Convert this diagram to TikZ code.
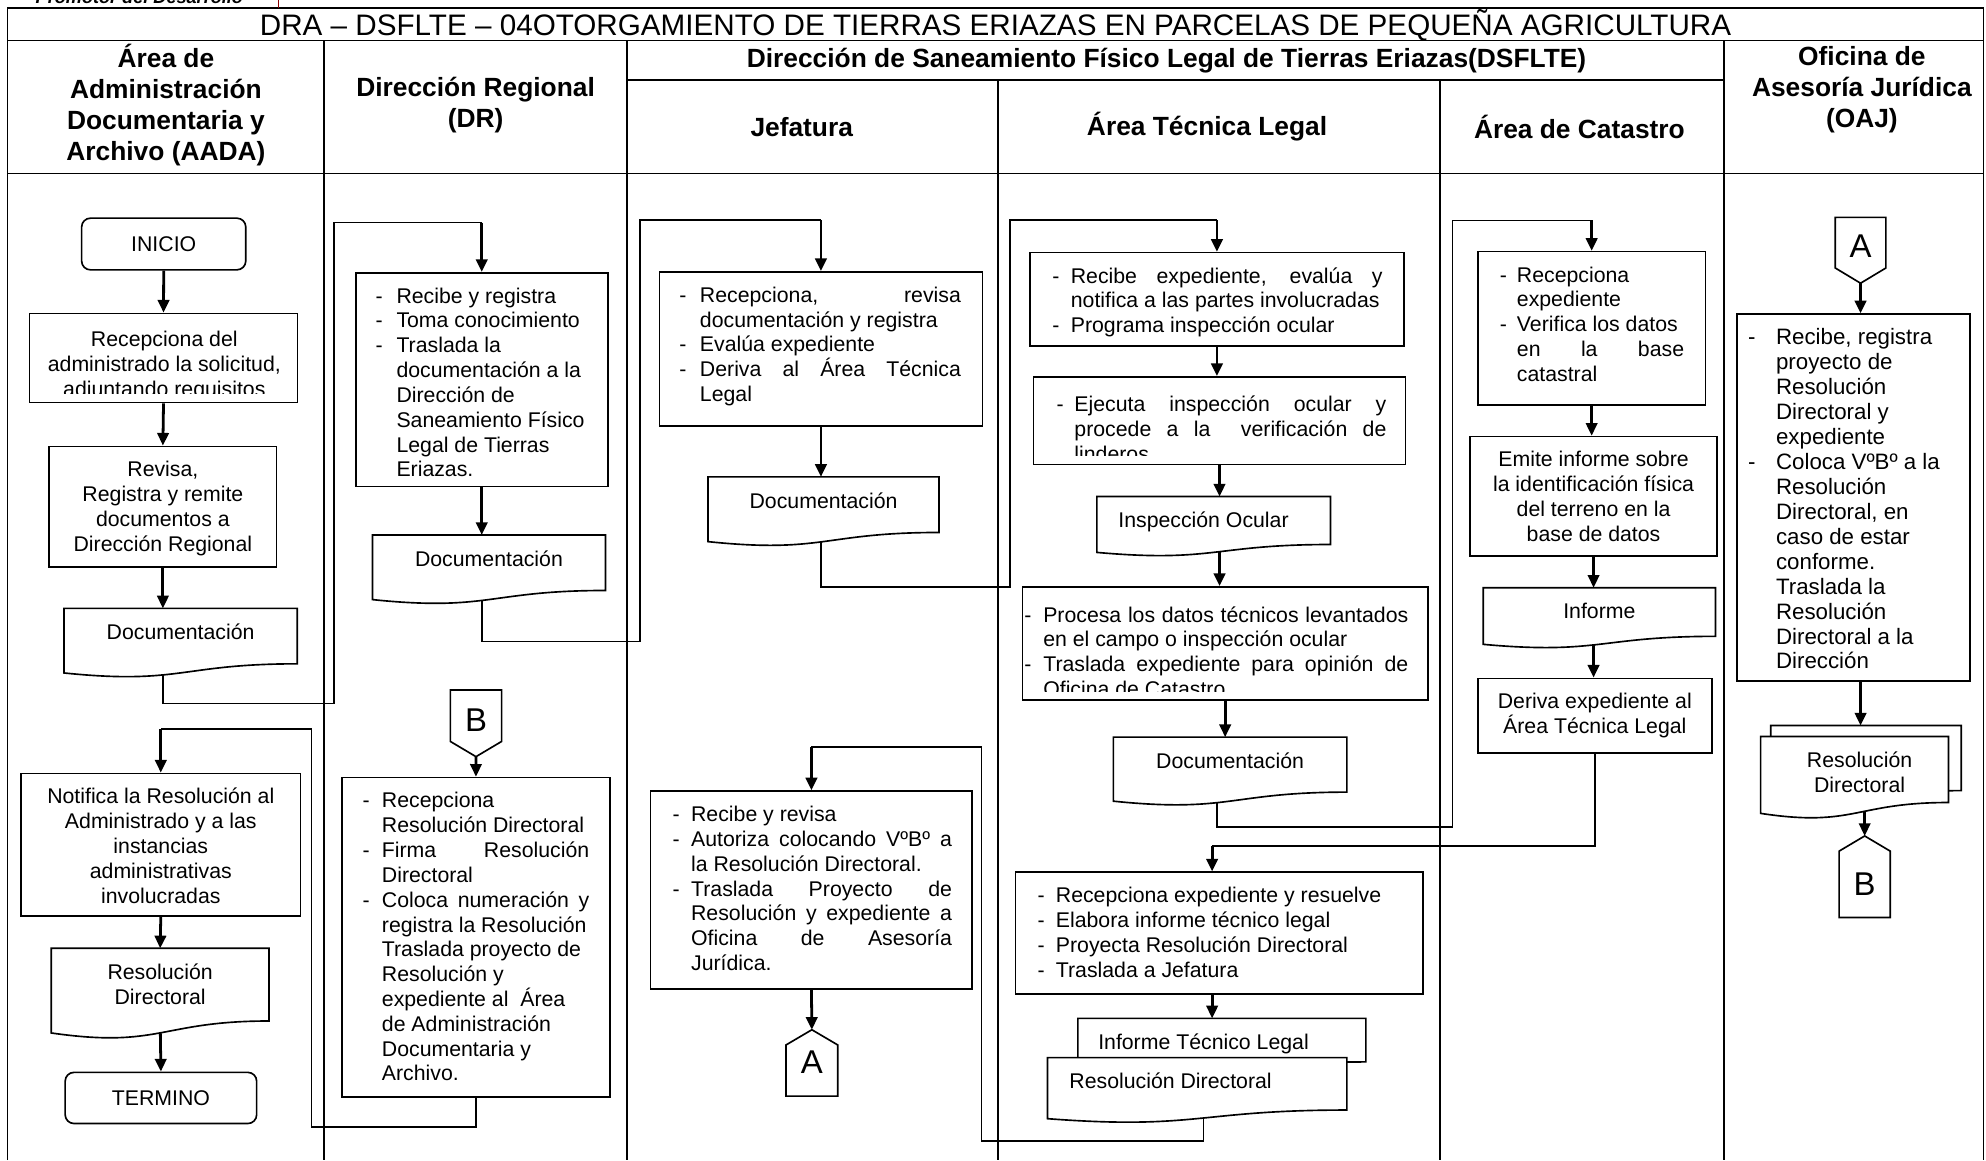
\documentclass[tikz,border=0pt]{standalone}
\usepackage{fontspec}
\usepackage{graphicx}
\setmainfont{Liberation Sans}
\usetikzlibrary{arrows.meta,calc}

\pgfdeclarelayer{lines}
\pgfdeclarelayer{shapes}
\pgfsetlayers{lines,shapes,main}

\newcommand{\bodyfont}{\fontsize{16.8pt}{19.6pt}\selectfont}
\newcommand{\hdrfont}{\fontsize{20.8pt}{24.5pt}\selectfont\bfseries}
\newcommand{\titlefont}{\fontsize{23.4pt}{28pt}\selectfont}
\newcommand{\offfont}{\fontsize{26pt}{26pt}\selectfont}

% bulleted lines: dash + hanging indent, optionally stretched to full width
\newlength{\bulind}
\newcommand{\bdash}[1]{\makebox[\bulind][l]{-}#1}
\newcommand{\bind}[1]{\hspace*{\bulind}#1}
\newcommand{\bdashj}[1]{\makebox[\bulind][l]{-}\makebox[\dimexpr\linewidth-\bulind\relax][s]{#1}}
\newcommand{\bindj}[1]{\hspace*{\bulind}\makebox[\dimexpr\linewidth-\bulind\relax][s]{#1}}
% text block with left pad, width, right pad
\newcommand{\txtblk}[4]{\hspace*{#1}\parbox[t]{#2}{#4}\hspace*{#3}}

% document symbol (wavy bottom) drawn around a node
\newcommand{\docshape}[1]{%
  \begin{pgfonlayer}{shapes}
  \draw[docline] let \p1=(#1.north west), \p2=(#1.south east), \n1={\y1-\y2} in
    (\x1,\y1) -- (\x2,\y1) -- (\x2,\y2)
    .. controls ({(\x1+\x2)/2},\y2) and ({(\x1+\x2)/2},{\y2-0.381*\n1}) .. (\x1,{\y2-0.1646*\n1}) -- cycle;
  \end{pgfonlayer}}
% off-page connectors
\newcommand{\offdown}[1]{%
  \begin{pgfonlayer}{shapes}
  \draw[docline] let \p1=(#1.north west), \p2=(#1.south east) in
    (\x1,\y1) -- (\x2,\y1) -- (\x2,{\y2+12pt}) -- ({(\x1+\x2)/2},\y2) -- (\x1,{\y2+12pt}) -- cycle;
  \end{pgfonlayer}}
\newcommand{\offup}[1]{%
  \begin{pgfonlayer}{shapes}
  \draw[docline] let \p1=(#1.north west), \p2=(#1.south east) in
    (\x1,\y2) -- (\x2,\y2) -- (\x2,{\y1-12pt}) -- ({(\x1+\x2)/2},\y1) -- (\x1,{\y1-12pt}) -- cycle;
  \end{pgfonlayer}}

\begin{document}
\begin{tikzpicture}[x=1pt,y=-1pt,
  lane/.style={line width=1.3pt},
  box/.style={draw, line width=1.3pt, fill=white, anchor=north west, inner sep=0pt, font=\bodyfont},
  term/.style={box, rounded corners=7pt},
  doc/.style={anchor=north west, inner sep=0pt, font=\bodyfont, text height=24.5pt},
  docline/.style={draw, line width=1.3pt, fill=white},
  conn/.style={line width=1.3pt},
  arr/.style={line width=2.2pt, -{Triangle[width=9pt,length=10pt]}},
  hdr/.style={font=\hdrfont, align=center, inner sep=0pt},
  clipbox/.style={box, path picture={
    \clip ([yshift=7pt]path picture bounding box.south west) rectangle (path picture bounding box.north east);
    \node[anchor=north west, inner sep=0pt, text height=24pt, font=\bodyfont] at (path picture bounding box.north west) {#1};}}
]
\useasboundingbox (0,0) rectangle (1568,916);

% ---------- frame and lanes ----------
\begin{pgfonlayer}{lines}
  \fill[white] (0,0) rectangle (1568,916);
  \draw[lane] (6,916) -- (6,6.5) -- (1566,6.5) -- (1566,916);
  \draw[lane] (6,32) -- (1566,32);
  \draw[lane] (6,137) -- (1566,137);
  \draw[lane] (495,63) -- (1361,63);
  \foreach \x in {256,495,1361} \draw[lane] (\x,32) -- (\x,916);
  \foreach \x in {788,1137} \draw[lane] (\x,63) -- (\x,916);
  \draw[red!55!black, line width=0.9pt] (220,0) -- (220,6.5);
\end{pgfonlayer}

\node[anchor=base west, inner sep=0pt, font=\fontsize{14.3pt}{15pt}\selectfont\bfseries\itshape] (logo) at (28,3) {Promotor del Desarrollo};

\node[font=\titlefont, anchor=base, inner sep=0pt] (title) at (786,28) {DRA – DSFLTE – 04OTORGAMIENTO DE TIERRAS ERIAZAS EN PARCELAS DE PEQUEÑA AGRICULTURA};

\node[hdr] (hAADA) at (131,82.75) {Área de\\Administración\\Documentaria y\\Archivo (AADA)};
\node[hdr] (hDR) at (375.5,83) {Dirección Regional\\(DR)};
\node[hdr] (hDS) at (921,48) {Dirección de Saneamiento Físico Legal de Tierras Eriazas(DSFLTE)};
\node[hdr] (hJef) at (633,100) {Jefatura};
\node[hdr] (hATL) at (953,100) {Área Técnica Legal};
\node[hdr] (hCat) at (1247,100) {Área de Catastro};
\node[hdr] (hOAJ) at (1470,71) {Oficina de\\Asesoría Jurídica\\(OAJ)};

% ---------- AADA ----------
\node[term, minimum width=129.6pt, minimum height=40.8pt] (inicio) at (63.8,171.6) {INICIO};
\node[clipbox={\txtblk{8pt}{195.7pt}{8pt}{\centering Recepciona del\\administrado la solicitud,\\adjuntando requisitos}},
      minimum width=211.7pt, minimum height=70.3pt] (a1) at (22.6,246.8) {};
\node[box, text height=24pt, text depth=71.2pt] (a2) at (38.2,351.8)
  {\txtblk{6pt}{167.5pt}{6pt}{\centering Revisa,\\Registra y remite\\documentos a\\Dirección Regional}};
\node[doc, text depth=18.9pt] (adoc1) at (50.5,480.3) {\makebox[183.8pt]{Documentación}};
\docshape{adoc1}
\node[box, text height=24pt, text depth=88.4pt] (a4) at (16,610)
  {\txtblk{6pt}{208.6pt}{6pt}{\centering Notifica la Resolución al\\Administrado y a las\\instancias\\administrativas\\involucradas}};
\node[doc, text depth=32.5pt] (adoc2) at (40.5,748.7) {\parbox[t]{171.5pt}{\centering Resolución\\Directoral}};
\docshape{adoc2}
\node[term, minimum width=151.2pt, minimum height=40.4pt] (termino) at (50.8,846) {TERMINO};

% ---------- DR ----------
\node[box, text height=24pt, text depth=144.7pt] (d1) at (280.2,214.7)
  {\txtblk{15.8pt}{171.2pt}{12pt}{\raggedright\setlength{\bulind}{16.4pt}%
   \bdash{Recibe y registra}\\\bdash{Toma conocimiento}\\\bdash{Traslada la}\\\bind{documentación a la}\\%
   \bind{Dirección de}\\\bind{Saneamiento Físico}\\\bind{Legal de Tierras}\\\bind{Eriazas.}}};
\node[doc, text depth=18.9pt] (ddoc) at (294.1,422.4) {\makebox[183.5pt]{Documentación}};
\docshape{ddoc}
\node[doc, text height=32.2pt, text depth=20pt] (dB) at (355.6,544.8) {\makebox[40pt]{\offfont B}};
\offdown{dB}
\node[box, text height=24pt, text depth=228.1pt] (d2) at (269.2,613.2)
  {\txtblk{16.5pt}{178.9pt}{16.4pt}{\raggedright\setlength{\bulind}{15.2pt}%
   \bdash{Recepciona}\\\bind{Resolución Directoral}\\\bdashj{Firma Resolución}\\\bind{Directoral}\\%
   \bdashj{Coloca numeración y}\\\bind{registra la Resolución}\\\bind{Traslada proyecto de}\\%
   \bind{Resolución y}\\\bind{expediente al\ \ Área}\\\bind{de Administración}\\\bind{Documentaria y}\\\bind{Archivo.}}};

% ---------- Jefatura ----------
\node[box, text height=24pt, text depth=97.6pt] (j1) at (520,214)
  {\txtblk{15.7pt}{222.3pt}{17pt}{\raggedright\setlength{\bulind}{16.3pt}%
   \bdashj{Recepciona, revisa}\\\bind{documentación y registra}\\\bdash{Evalúa expediente}\\%
   \bdashj{Deriva al Área Técnica}\\\bind{Legal}}};
\node[doc, text depth=19pt] (jdoc) at (559,376.5) {\makebox[182pt]{Documentación}};
\docshape{jdoc}
\node[box, text height=24pt, text depth=132.3pt] (j2) at (513,624)
  {\txtblk{17.3pt}{220.7pt}{16pt}{\raggedright\setlength{\bulind}{14.7pt}%
   \bdash{Recibe y revisa}\\\bdashj{Autoriza colocando VºBº a}\\\bind{la Resolución Directoral.}\\%
   \bdashj{Traslada Proyecto de}\\\bindj{Resolución y expediente a}\\\bindj{Oficina de Asesoría}\\\bind{Jurídica.}}};
\node[doc, text height=34.6pt, text depth=17.4pt] (jA) at (620.6,813) {\makebox[40.4pt]{\offfont A}};
\offup{jA}

% ---------- Área Técnica Legal ----------
\node[box, text height=24pt, text depth=49.6pt] (t1) at (812.6,198.8)
  {\txtblk{17.7pt}{260.7pt}{16.7pt}{\raggedright\setlength{\bulind}{14.5pt}%
   \bdashj{Recibe expediente, evalúa y}\\\bind{notifica a las partes involucradas}\\\bdash{Programa inspección ocular}}};
\node[clipbox={\txtblk{17.7pt}{260.3pt}{15.8pt}{\raggedright\setlength{\bulind}{14pt}%
   \bdashj{Ejecuta inspección ocular y}\\\bindj{procede a la\ \ verificación de}\\\bind{linderos}}},
      minimum width=293.8pt, minimum height=69.1pt] (t2) at (815.3,296.9) {};
\node[doc, text depth=13pt] (tdoc1) at (866,392) {\makebox[184pt]{\hspace*{-16pt}Inspección Ocular}};
\docshape{tdoc1}
\node[clipbox={\txtblk{0.8pt}{303.2pt}{16.1pt}{\raggedright\setlength{\bulind}{15pt}%
   \bdashj{Procesa los datos técnicos levantados}\\\bind{en el campo o inspección ocular}\\%
   \bdashj{Traslada expediente para opinión de}\\\bind{Oficina de Catastro}}},
      minimum width=320.1pt, minimum height=89.3pt] (t3) at (806.6,462.7) {};
\node[doc, text depth=18.5pt] (tdoc2) at (879,582) {\makebox[184pt]{Documentación}};
\docshape{tdoc2}
\node[box, text height=24pt, text depth=72pt] (t4) at (801,688)
  {\txtblk{17.5pt}{288.5pt}{16pt}{\raggedright\setlength{\bulind}{14.5pt}%
   \bdash{Recepciona expediente y resuelve}\\\bdash{Elabora informe técnico legal}\\%
   \bdash{Proyecta Resolución Directoral}\\\bdash{Traslada a Jefatura}}};
\node[doc, text depth=9.5pt] (tdoc3) at (851,804) {\makebox[227pt]{\hspace*{-29pt}Informe Técnico Legal}};
\docshape{tdoc3}
\node[doc, text depth=16.5pt] (tdoc4) at (827,835) {\makebox[236pt]{\hspace*{-42pt}Resolución Directoral}};
\docshape{tdoc4}

% ---------- Área de Catastro ----------
\node[box, text height=24pt, text depth=97pt] (c1) at (1166,198)
  {\txtblk{17.5pt}{145.5pt}{17pt}{\raggedright\setlength{\bulind}{13.5pt}%
   \bdash{Recepciona}\\\bind{expediente}\\\bdash{Verifica los datos}\\\bindj{en la base}\\\bind{catastral}}};
\node[box, text height=24pt, text depth=70.3pt] (c2) at (1160,344)
  {\txtblk{5pt}{185pt}{5pt}{\centering Emite informe sobre\\la identificación física\\del terreno en la\\base de datos}};
\node[doc, text depth=13.5pt] (cdoc) at (1171,464) {\makebox[183pt]{Informe}};
\docshape{cdoc}
\node[box, text height=24pt, text depth=35pt] (c3) at (1166,535)
  {\txtblk{5pt}{175pt}{5pt}{\centering Deriva expediente al\\Área Técnica Legal}};

% ---------- OAJ ----------
\node[doc, text height=31.8pt, text depth=19.8pt] (oA) at (1449,171.6) {\makebox[39.5pt]{\offfont A}};
\offdown{oA}
\node[box, text height=24pt, text depth=265.4pt] (o1) at (1370.6,247.4)
  {\txtblk{9pt}{165.2pt}{10pt}{\fontsize{17.6pt}{19.7pt}\selectfont\raggedright\setlength{\bulind}{22pt}%
   \bdash{Recibe, registra}\\\bind{proyecto de}\\\bind{Resolución}\\\bind{Directoral y}\\\bind{expediente}\\%
   \bdash{Coloca VºBº a la}\\\bind{Resolución}\\\bind{Directoral, en}\\\bind{caso de estar}\\\bind{conforme.}\\%
   \bind{Traslada la}\\\bind{Resolución}\\\bind{Directoral a la}\\\bind{Dirección}}};
\node[doc, text depth=26.5pt] (odocb) at (1398,572.8) {\makebox[150pt]{}};
\docshape{odocb}
\node[doc, text depth=27.2pt] (odocf) at (1390,581.5) {\parbox[t]{148pt}{\centering\hspace*{8pt}Resolución\\\hspace*{8pt}Directoral}};
\docshape{odocf}
\node[doc, text height=47pt, text depth=17pt] (oB) at (1452,660) {\makebox[40pt]{\offfont B}};
\offup{oB}

% ---------- connectors ----------
\begin{pgfonlayer}{lines}
  % straight flow
  \draw[arr] (inicio.south) -- (a1.north);
  \draw[arr] (a1.south) -- (a2.north);
  \draw[arr] (a2.south) -- (a2.south |- adoc1.north);
  \draw[arr] (a4.south) -- (adoc2.north);
  \draw[arr] (adoc2.south) -- (termino.north);
  \draw[arr] (d1.south) -- (d1.south |- ddoc.north);
  \draw[arr] (dB.south) -- (d2.north);
  \draw[arr] (j1.south) -- (j1.south |- jdoc.north);
  \draw[arr] (j2.south) -- (jA.north);
  \draw[arr] (t1.south) -- (t1.south |- t2.north);
  \draw[arr] (t2.south) -- (t2.south |- tdoc1.north);
  \draw[arr] (t2.south |- tdoc1.south) -- (t2.south |- t3.north);
  \draw[arr] (t3.south) -- (t3.south |- tdoc2.north);
  \draw[arr] (c1.south) -- (c1.south |- c2.north);
  \draw[arr] (c2.south) -- (c2.south |- cdoc.north);
  \draw[arr] (c2.south |- cdoc.south) -- (c2.south |- c3.north);
  \draw[arr] (oA.south) -- (oA.south |- o1.north);
  \draw[arr] (oA.south |- o1.south) -- (oA.south |- odocb.north);
  \draw[arr] (oB.north |- odocf.south) -- (oB.north);

  % AADA -> DR
  \coordinate (k1a) at (263.5,555.3);
  \coordinate (k1b) at (263.5,175.8);
  \draw[conn] (adoc1.south -| a2.south) |- (k1a) -- (k1b) -- (k1b -| d1.north);
  \draw[arr] (k1b -| d1.north) -- (d1.north);
  % DR -> Jefatura
  \coordinate (k2a) at (505.2,506.6);
  \coordinate (k2b) at (505.2,173.7);
  \draw[conn] (ddoc.south -| d1.south) |- (k2a) -- (k2b) -- (k2b -| j1.north);
  \draw[arr] (k2b -| j1.north) -- (j1.north);
  % Jefatura -> Área Técnica Legal
  \coordinate (k3a) at (797.5,463.6);
  \coordinate (k3b) at (797.5,173.7);
  \draw[conn] (jdoc.south -| j1.south) |- (k3a) -- (k3b) -- (k3b -| t1.north);
  \draw[arr] (k3b -| t1.north) -- (t1.north);
  % Área Técnica Legal -> Catastro
  \coordinate (k4a) at (1146.7,653);
  \coordinate (k4b) at (1146.7,174);
  \draw[conn] (tdoc2.south -| t1.south) |- (k4a) -- (k4b) -- (k4b -| c1.north);
  \draw[arr] (k4b -| c1.north) -- (c1.north);
  % Catastro -> Área Técnica Legal
  \coordinate (k5) at (957,667.7);
  \draw[conn] (c3.south) |- (k5);
  \draw[arr] (k5) -- (k5 |- t4.north);
  \draw[arr] (k5 |- t4.south) -- (k5 |- tdoc3.north);
  % Área Técnica Legal -> Jefatura
  \coordinate (k6a) at (775,901);
  \coordinate (k6b) at (775,590);
  \draw[conn] ([xshift=5pt]tdoc4.south) |- (k6a) -- (k6b) -- (k6b -| j2.north);
  \draw[arr] (k6b -| j2.north) -- (j2.north);
  % DR -> AADA
  \coordinate (k7a) at (246,890);
  \coordinate (k7b) at (246,575.8);
  \draw[conn] (d2.south) |- (k7a) -- (k7b) -- (k7b -| a4.north);
  \draw[arr] (k7b -| a4.north) -- (a4.north);
\end{pgfonlayer}
\end{tikzpicture}
\end{document}
